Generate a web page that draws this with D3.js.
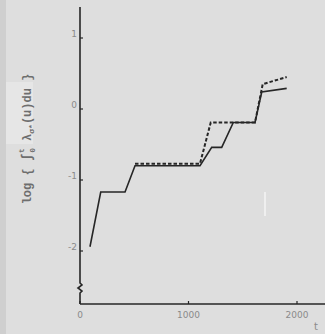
<!DOCTYPE html>
<html><head><meta charset="utf-8">
<script src="https://cdn.jsdelivr.net/npm/d3@7"></script>
<style>body{margin:0;background:#dedede;}svg{display:block;}</style>
</head><body>
<script>
const solidT = [92, 191, 415, 507, 1106, 1214, 1306, 1413, 1613, 1675, 1905];
const solidV = [-1.94, -1.17, -1.17, -0.80, -0.80, -0.54, -0.54, -0.19, -0.19, 0.24, 0.29];
const dashT = [507, 1106, 1205, 1613, 1684, 1905];
const dashV = [-0.77, -0.77, -0.19, -0.19, 0.35, 0.45];
const xTicks = [0, 1000, 2000];
const yTicks = [1, 0, -1, -2];

const W = 325, H = 334;
const svg = d3.select("body").append("svg").attr("width", W).attr("height", H);
svg.append("rect").attr("width", W).attr("height", H).attr("fill", "#dedede");
svg.append("rect").attr("x", 0).attr("y", 0).attr("width", 6).attr("height", H).attr("fill", "#cfcfcf");
svg.append("rect").attr("x", 6).attr("y", 82).attr("width", 27).attr("height", 62).attr("fill", "#e6e6e6");

const x = d3.scaleLinear().domain([0, 1000]).range([80, 188.5]);
const y = d3.scaleLinear().domain([0, -1]).range([109, 180]);

const ink = "#262626";
svg.append("line").attr("x1", 80).attr("x2", 325).attr("y1", 304).attr("y2", 304).attr("stroke", ink).attr("stroke-width", 1.6);
svg.append("path").attr("d", "M80,7 L80,283 L82,285 L78,288 L82,291 L80,293 L80,304")
  .attr("fill", "none").attr("stroke", ink).attr("stroke-width", 1.6);

const tickFont = "'DejaVu Sans', sans-serif";
xTicks.forEach(t => {
  svg.append("line").attr("x1", x(t)).attr("x2", x(t)).attr("y1", 304).attr("y2", 301).attr("stroke", ink).attr("stroke-width", 1.2);
  svg.append("text").attr("x", x(t)).attr("y", 318).attr("text-anchor", "middle")
    .attr("font-family", tickFont).attr("font-size", 9).attr("fill", "#8a8a8a").text(t);
});
svg.append("text").attr("x", 316).attr("y", 330).attr("text-anchor", "middle")
  .attr("font-family", tickFont).attr("font-size", 10).attr("fill", "#8a8a8a").text("t");
yTicks.forEach(v => {
  svg.append("line").attr("x1", 80).attr("x2", 83).attr("y1", y(v)).attr("y2", y(v)).attr("stroke", ink).attr("stroke-width", 1.2);
  svg.append("text").attr("x", 77).attr("y", y(v) - 1).attr("text-anchor", "end")
    .attr("font-family", tickFont).attr("font-size", 9).attr("fill", "#8a8a8a").text(v < 0 ? "-" + Math.abs(v) : v);
});

const lab = svg.append("text").attr("transform", "translate(31,139) rotate(-90)")
  .attr("text-anchor", "middle").attr("font-family", "'Liberation Mono', monospace")
  .attr("font-size", 12).attr("font-weight", "bold").attr("fill", "#6e6e6e");
lab.append("tspan").text("log { ");
lab.append("tspan").attr("font-size", 14).text("∫");
lab.append("tspan").attr("font-size", 8).attr("dy", 4).text("0");
lab.append("tspan").attr("font-size", 8).attr("dy", -11).attr("dx", -5).text("t");
lab.append("tspan").attr("dy", 7).text(" λ");
lab.append("tspan").attr("font-size", 8).attr("dy", 3).text("σ*");
lab.append("tspan").attr("dy", -3).text("(u)du }");

const line = d3.line().x(d => x(d[0])).y(d => y(d[1]));
svg.append("path").datum(solidT.map((t, i) => [t, solidV[i]]))
  .attr("d", line).attr("fill", "none").attr("stroke", ink).attr("stroke-width", 1.6);
svg.append("path").datum(dashT.map((t, i) => [t, dashV[i]]))
  .attr("d", line).attr("fill", "none").attr("stroke", ink).attr("stroke-width", 2)
  .attr("stroke-dasharray", "3.5,2");

svg.append("line").attr("x1", 265).attr("x2", 265).attr("y1", 192).attr("y2", 216).attr("stroke", "#f4f4f4").attr("stroke-width", 1.5);
</script>
</body></html>
